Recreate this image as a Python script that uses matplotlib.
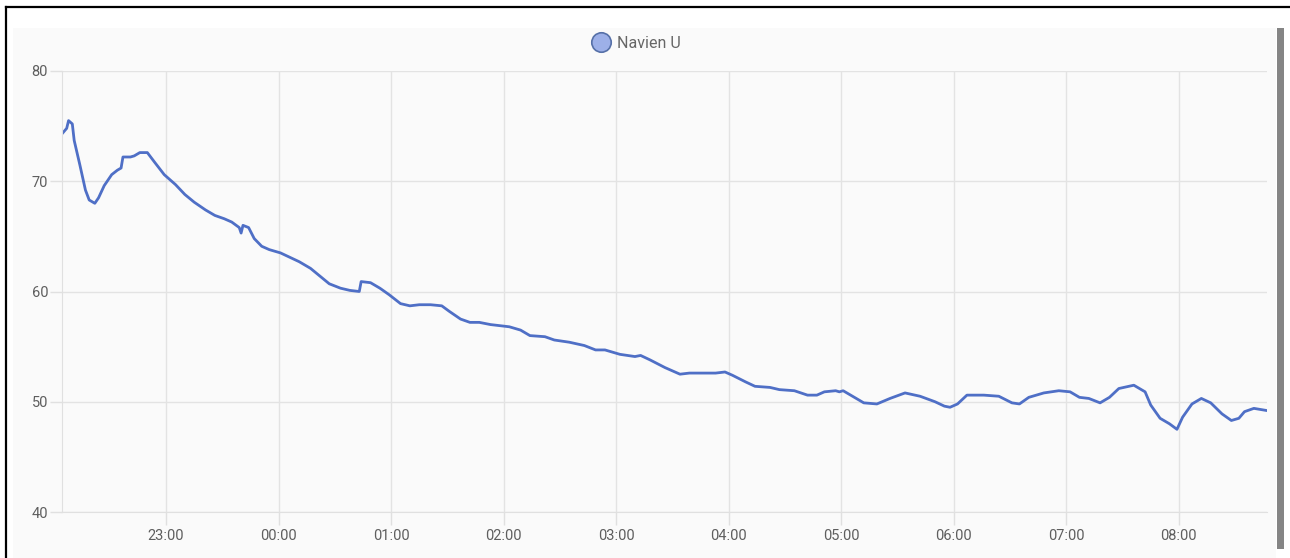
import pandas as pd
import matplotlib
matplotlib.use('Agg')
import matplotlib.pyplot as plt
import matplotlib.dates as mdates
from matplotlib.lines import Line2D
from matplotlib.patches import Rectangle

plt.rcParams['font.family'] = ['Roboto', 'DejaVu Sans']

# Series (time of day, value)
series_name = 'Navien U'
times = [
    '22:05', '22:07', '22:08', '22:10', '22:11', '22:14', '22:17', '22:19', '22:22', '22:24',
    '22:27', '22:31', '22:34', '22:36', '22:37', '22:41', '22:43', '22:46', '22:50', '22:54',
    '22:59', '23:05', '23:10', '23:15', '23:21', '23:26', '23:31', '23:35', '23:39', '23:40',
    '23:41', '23:44', '23:47', '23:51', '23:55', '00:01', '00:06', '00:11', '00:17', '00:22',
    '00:27', '00:33', '00:38', '00:43', '00:44', '00:49', '00:54', '00:59', '01:05', '01:10',
    '01:15', '01:21', '01:27', '01:31', '01:37', '01:42', '01:47', '01:53', '01:58', '02:03',
    '02:09', '02:14', '02:22', '02:27', '02:35', '02:43', '02:49', '02:54', '03:02', '03:10',
    '03:13', '03:18', '03:26', '03:34', '03:39', '03:47', '03:53', '03:58', '04:02', '04:09',
    '04:14', '04:22', '04:27', '04:35', '04:42', '04:47', '04:51', '04:57', '04:59', '05:01',
    '05:07', '05:12', '05:19', '05:26', '05:34', '05:42', '05:50', '05:55', '05:58', '06:02',
    '06:07', '06:16', '06:24', '06:31', '06:35', '06:40', '06:48', '06:56', '07:02', '07:07',
    '07:12', '07:18', '07:23', '07:28', '07:36', '07:42', '07:45', '07:50', '07:55', '07:59',
    '08:02', '08:07', '08:12', '08:17', '08:23', '08:28', '08:32', '08:35', '08:40', '08:47',
]
values = [
    74.4, 74.8, 75.5, 75.2, 73.7, 71.5, 69.2, 68.3, 68.0, 68.5,
    69.6, 70.6, 71.0, 71.2, 72.2, 72.2, 72.3, 72.6, 72.6, 71.7,
    70.6, 69.7, 68.8, 68.1, 67.4, 66.9, 66.6, 66.3, 65.8, 65.3,
    66.0, 65.8, 64.8, 64.1, 63.8, 63.5, 63.1, 62.7, 62.1, 61.4,
    60.7, 60.3, 60.1, 60.0, 60.9, 60.8, 60.3, 59.7, 58.9, 58.7,
    58.8, 58.8, 58.7, 58.2, 57.5, 57.2, 57.2, 57.0, 56.9, 56.8,
    56.5, 56.0, 55.9, 55.6, 55.4, 55.1, 54.7, 54.7, 54.3, 54.1,
    54.2, 53.8, 53.1, 52.5, 52.6, 52.6, 52.6, 52.7, 52.4, 51.8,
    51.4, 51.3, 51.1, 51.0, 50.6, 50.6, 50.9, 51.0, 50.9, 51.0,
    50.4, 49.9, 49.8, 50.3, 50.8, 50.5, 50.0, 49.6, 49.5, 49.8,
    50.6, 50.6, 50.5, 49.9, 49.8, 50.4, 50.8, 51.0, 50.9, 50.4,
    50.3, 49.9, 50.4, 51.2, 51.5, 50.9, 49.7, 48.5, 48.0, 47.5,
    48.6, 49.8, 50.3, 49.9, 48.9, 48.3, 48.5, 49.1, 49.4, 49.2,
]
y_ticks = [40, 50, 60, 70, 80]
x_start, x_end = '2024-01-01 22:04:30', '2024-01-02 08:47:00'

# turn clock times into datetimes, rolling over midnight
stamps = []
day = pd.Timestamp('2024-01-01')
prev = None
for t in times:
    ts = pd.Timestamp(f"{day.date()} {t}")
    if prev is not None and ts < prev:
        day = day + pd.Timedelta(days=1)
        ts = ts + pd.Timedelta(days=1)
    stamps.append(ts)
    prev = ts

fig = plt.figure(figsize=(12.9, 5.58), dpi=100)
fig.patch.set_facecolor('white')

# card panel and frame
fig.patches.append(Rectangle((13 / 1290, 0), (1276 - 13) / 1290, 1 - 28 / 558,
                             transform=fig.transFigure, facecolor='#fafafa',
                             edgecolor='none', zorder=-5))
fig.lines.append(Line2D([6 / 1290, 1], [1 - 7 / 558, 1 - 7 / 558], transform=fig.transFigure,
                        color='black', linewidth=1.6))
fig.lines.append(Line2D([6 / 1290, 6 / 1290], [0, 1 - 7 / 558], transform=fig.transFigure,
                        color='black', linewidth=1.6))
# scrollbar
fig.patches.append(Rectangle((1277 / 1290, 1 - 549 / 558), 7 / 1290, (549 - 28) / 558,
                             transform=fig.transFigure, facecolor='#858585',
                             edgecolor='none', zorder=1))

ax = fig.add_axes([62 / 1290, 1 - 512 / 558, (1267 - 62) / 1290, (512 - 71) / 558])
ax.set_facecolor('#fafafa')

ax.plot(stamps, values, color='#4f6fc6', linewidth=2.0, solid_joinstyle='round')

ax.set_ylim(40, 80)
ax.set_yticks(y_ticks)
ax.set_xlim(pd.Timestamp(x_start), pd.Timestamp(x_end))
ax.xaxis.set_major_locator(mdates.HourLocator())
ax.xaxis.set_major_formatter(mdates.DateFormatter('%H:%M'))

ax.grid(True, color='#e3e3e3', linewidth=1)
ax.set_axisbelow(True)
for side in ['top', 'right']:
    ax.spines[side].set_visible(False)
for side in ['left', 'bottom']:
    ax.spines[side].set_color('#e0e0e0')
ax.tick_params(axis='both', colors='#e0e0e0', length=9, width=1,
               labelcolor='#5e5e5e', labelsize=10.5)
ax.tick_params(axis='x', pad=3)
ax.tick_params(axis='y', pad=1)

handle = Line2D([], [], marker='o', linestyle='none', markersize=14,
                markerfacecolor='#9db0e8', markeredgecolor='#5670a8', markeredgewidth=1.2)
fig.legend([handle], [series_name], loc='center', bbox_to_anchor=(636 / 1290, 1 - 43 / 558),
           frameon=False, fontsize=11.5, labelcolor='#666666', handletextpad=0.4,
           handlelength=1.2)

fig.savefig('out.png', dpi=100, facecolor=fig.get_facecolor())
